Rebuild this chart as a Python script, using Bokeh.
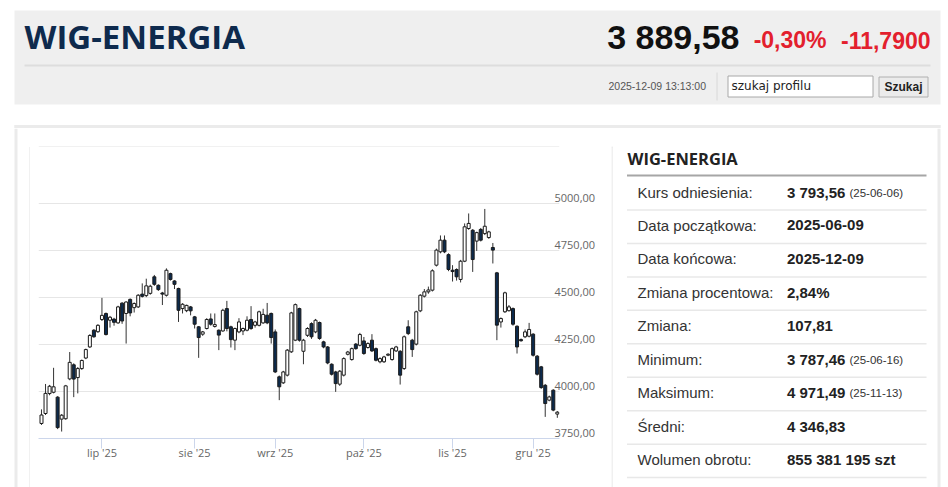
from bokeh.plotting import figure
from bokeh.layouts import column, row
from bokeh.models import Range1d, FixedTicker, ColumnDataSource
from bokeh.core.properties import value
from bokeh.embed import file_html
from bokeh.resources import INLINE

# ---------------- data ----------------
index_name = "WIG-ENERGIA"
last_price = "3 889,58"
change_pct = "-0,30%"
change_abs = "-11,7900"
timestamp = "2025-12-09 13:13:00"
search_hint = "szukaj profilu"
search_button = "Szukaj"

opens = [3830, 3883, 3989, 3996, 3970, 3853, 3855, 4067, 4142, 4074,
         4122, 4178, 4237, 4326, 4318, 4383, 4415, 4379, 4385, 4365,
         4470, 4415, 4490, 4446, 4450, 4518, 4510, 4522, 4610, 4565,
         4524, 4512, 4627, 4588, 4548, 4441, 4430, 4450, 4397, 4344,
         4305, 4335, 4386, 4346, 4326, 4322, 4441, 4344, 4273, 4317,
         4322, 4326, 4383, 4352, 4352, 4365, 4406, 4415, 4317, 4078,
         4046, 4087, 4211, 4273, 4441, 4214, 4299, 4361, 4317, 4367,
         4264, 4237, 4145, 4104, 4039, 4087, 4198, 4170, 4252, 4246,
         4269, 4234, 4273, 4228, 4158, 4158, 4193, 4170, 4216, 4214,
         4122, 4344, 4273, 4252, 4429, 4507, 4530, 4539, 4672, 4743,
         4805, 4728, 4645, 4649, 4596, 4693, 4867, 4858, 4800, 4862,
         4840, 4819, 4766, 4631, 4370, 4424, 4430, 4441, 4347, 4276,
         4291, 4294, 4305, 4188, 4131, 4033, 3954, 4007, 3880]
highs = [3905, 4040, 4035, 4126, 3975, 3880, 4035, 4210, 4150, 4130,
         4170, 4228, 4305, 4332, 4358, 4498, 4420, 4402, 4392, 4456,
         4475, 4480, 4495, 4474, 4518, 4575, 4600, 4568, 4620, 4570,
         4530, 4655, 4632, 4592, 4552, 4470, 4462, 4455, 4402, 4348,
         4322, 4390, 4415, 4415, 4330, 4440, 4482, 4350, 4340, 4390,
         4340, 4400, 4454, 4376, 4430, 4440, 4471, 4420, 4330, 4085,
         4110, 4226, 4424, 4468, 4446, 4280, 4342, 4368, 4386, 4372,
         4270, 4242, 4150, 4110, 4114, 4182, 4216, 4234, 4258, 4312,
         4290, 4262, 4305, 4234, 4182, 4190, 4204, 4234, 4243, 4220,
         4298, 4379, 4280, 4430, 4518, 4545, 4558, 4650, 4760, 4830,
         4830, 4735, 4672, 4655, 4700, 4894, 4947, 4864, 4850, 4870,
         4971, 4855, 4790, 4636, 4394, 4531, 4460, 4447, 4352, 4282,
         4330, 4365, 4310, 4194, 4136, 4040, 3978, 4012, 3896]
lows = [3822, 3875, 3980, 3990, 3800, 3787, 3850, 4060, 3970, 3990,
        4115, 4172, 4232, 4286, 4312, 4375, 4298, 4340, 4350, 4360,
        4360, 4255, 4400, 4420, 4444, 4500, 4502, 4515, 4562, 4535,
        4460, 4505, 4590, 4545, 4370, 4415, 4422, 4405, 4335, 4179,
        4296, 4330, 4350, 4340, 4220, 4318, 4320, 4234, 4220, 4310,
        4300, 4320, 4328, 4340, 4346, 4360, 4358, 4255, 4098, 3954,
        4040, 4080, 4205, 4268, 4265, 4145, 4290, 4280, 4310, 4275,
        4230, 4145, 4085, 3998, 4030, 4080, 4192, 4164, 4222, 4240,
        4195, 4228, 4210, 4160, 4150, 4152, 4188, 4164, 4210, 4037,
        4115, 4300, 4184, 4245, 4422, 4500, 4520, 4532, 4665, 4735,
        4736, 4640, 4585, 4590, 4580, 4688, 4860, 4636, 4748, 4798,
        4832, 4812, 4681, 4273, 4340, 4418, 4425, 4350, 4202, 4265,
        4284, 4288, 4186, 4085, 4014, 3865, 3948, 3895, 3860]
closes = [3875, 3990, 4028, 4025, 3808, 3874, 4030, 4155, 4066, 4122,
          4165, 4223, 4298, 4291, 4352, 4405, 4303, 4395, 4368, 4450,
          4375, 4476, 4418, 4468, 4512, 4506, 4562, 4560, 4570, 4542,
          4518, 4645, 4596, 4570, 4432, 4464, 4458, 4429, 4358, 4287,
          4317, 4383, 4358, 4356, 4300, 4432, 4335, 4276, 4335, 4370,
          4335, 4379, 4335, 4370, 4424, 4410, 4365, 4287, 4104, 4025,
          4104, 4220, 4418, 4462, 4273, 4273, 4335, 4291, 4379, 4282,
          4237, 4152, 4092, 4042, 4108, 4175, 4210, 4228, 4228, 4303,
          4202, 4255, 4216, 4166, 4175, 4184, 4198, 4228, 4237, 4087,
          4291, 4308, 4223, 4424, 4512, 4530, 4540, 4642, 4752, 4805,
          4743, 4649, 4638, 4610, 4693, 4876, 4894, 4702, 4845, 4805,
          4879, 4849, 4752, 4353, 4388, 4525, 4450, 4358, 4237, 4270,
          4317, 4330, 4193, 4092, 4021, 3936, 3971, 3901, 3890]

month_ticks = [15, 38, 58, 80, 102, 122]
month_labels = ["lip '25", "sie '25", "wrz '25", "paź '25", "lis '25", "gru '25"]
price_ticks = [3750, 4000, 4250, 4500, 4750, 5000, 5250]
price_labels = ["3750,00", "4000,00", "4250,00", "4500,00", "4750,00", "5000,00", ""]

panel_title = "WIG-ENERGIA"
row_labels = ["Kurs odniesienia:", "Data początkowa:", "Data końcowa:",
              "Zmiana procentowa:", "Zmiana:", "Minimum:", "Maksimum:",
              "Średni:", "Wolumen obrotu:"]
row_values = ["3 793,56", "2025-06-09", "2025-12-09", "2,84%", "107,81",
              "3 787,46", "4 971,49", "4 346,83", "855 381 195 szt"]
row_notes = ["(25-06-06)", "", "", "", "", "(25-06-16)", "(25-11-13)", "", ""]

# ---------------- helpers ----------------
NAVY = "#0c2a4c"
CARD = "#ebebeb"
BOX = "#e2e2e2"
PAGE_W, PAGE_H = 948, 487
ROW_TOP = 128


def deco(x0, x1, y0, y1):
    p = figure(width=x1 - x0, height=y1 - y0,
               x_range=Range1d(x0, x1), y_range=Range1d(y1, y0),
               toolbar_location=None, output_backend="svg", title=None,
               min_border=0, x_axis_type=None, y_axis_type=None)
    p.outline_line_color = None
    p.background_fill_color = "white"
    p.border_fill_color = "white"
    return p


def txt(p, x, y, s, size, color, font="Liberation Sans", bold=False, align="left"):
    p.text(x=[x], y=[y], text=[s], text_font=value(font), text_font_size=size,
           text_color=color, text_font_style="bold" if bold else "normal",
           text_align=align, text_baseline="middle")


# ---------------- header (incl. top edge of the card) ----------------
hdr = deco(0, PAGE_W, 0, ROW_TOP)
hdr.quad(left=[14], right=[940], top=[10], bottom=[104], fill_color="#efefef", line_color=None)
hdr.segment(x0=[24], y0=[65], x1=[930], y1=[65], line_color="#dddddd", line_width=2)
txt(hdr, 24, 35.5, index_name, "33px", "#0e2a4d", font="Open Sans", bold=True)
txt(hdr, 739, 36.5, last_price, "34px", "#111111", bold=True, align="right")
txt(hdr, 826, 39.5, change_pct, "23px", "#e3202d", bold=True, align="right")
txt(hdr, 930, 39.5, change_abs, "23px", "#e3202d", bold=True, align="right")
txt(hdr, 608, 85.5, timestamp, "10.5px", "#555555")
hdr.segment(x0=[716.5], y0=[72], x1=[716.5], y1=[100], line_color="#d8d8d8", line_width=1)
hdr.quad(left=[727.5], right=[872.5], top=[75.5], bottom=[96.5], fill_color="white",
         line_color="#a8a8a8", line_width=1)
txt(hdr, 731, 85, search_hint, "12px", "#222222", font="DejaVu Sans")
hdr.quad(left=[878.5], right=[927.5], top=[76.5], bottom=[96.5], fill_color="#ebebeb",
         line_color="#b0b0b0", line_width=1)
txt(hdr, 903, 86, search_button, "12px", "#222222", bold=True, align="center")
# card top edge
hdr.segment(x0=[14], y0=[126], x1=[940], y1=[126], line_color=CARD, line_width=3)
hdr.segment(x0=[15.5], y0=[124.5], x1=[15.5], y1=[ROW_TOP], line_color=CARD, line_width=3)
hdr.segment(x0=[938.5], y0=[124.5], x1=[938.5], y1=[ROW_TOP], line_color=CARD, line_width=3)

# ---------------- left edge ----------------
left = deco(0, 30, ROW_TOP, PAGE_H)
left.segment(x0=[15.5], y0=[ROW_TOP], x1=[15.5], y1=[PAGE_H], line_color=CARD, line_width=3)
left.segment(x0=[29.5], y0=[146.5], x1=[30], y1=[146.5], line_color=BOX, line_width=1)
left.segment(x0=[29.5], y0=[146.5], x1=[29.5], y1=[PAGE_H], line_color=BOX, line_width=1)

# ---------------- strip above chart ----------------
strip = deco(30, 611, ROW_TOP, 147)
strip.segment(x0=[30], y0=[146.5], x1=[611], y1=[146.5], line_color=BOX, line_width=1)

# ---------------- chart ----------------
xs = list(range(len(opens)))
tops = [max(o, c) for o, c in zip(opens, closes)]
bottoms = [min(o, c) for o, c in zip(opens, closes)]
fills = ["white" if c >= o else NAVY for o, c in zip(opens, closes)]
src = ColumnDataSource(dict(x=xs, open=opens, high=highs, low=lows, close=closes,
                            top=tops, bottom=bottoms, fill=fills))

chart = figure(width=581, height=PAGE_H - 147, x_range=Range1d(-0.744, 128.54),
               y_range=Range1d(3750, 5250), toolbar_location=None,
               output_backend="svg", title=None, y_axis_location="right",
               min_border_left=8, min_border_right=52, min_border_top=9,
               min_border_bottom=PAGE_H - 147 - 9 - 282)
chart.outline_line_color = None
chart.background_fill_color = "white"
chart.border_fill_color = "white"
chart.xgrid.visible = False
chart.ygrid.ticker = FixedTicker(ticks=price_ticks)
chart.ygrid.grid_line_color = "#e6e6e6"
chart.ygrid.grid_line_width = 1

ya = chart.yaxis[0]
ya.ticker = FixedTicker(ticks=price_ticks)
ya.major_label_overrides = {float(t): (l + "\n " if l else "") for t, l in zip(price_ticks, price_labels)}
ya.axis_line_color = None
ya.major_tick_line_color = None
ya.minor_tick_line_color = None
ya.major_tick_out = 0
ya.major_tick_in = 0
ya.major_label_standoff = -5
ya.major_label_text_color = "#666666"
ya.major_label_text_font = "Open Sans"
ya.major_label_text_font_size = "11px"
ya.major_label_text_line_height = 0.8

xa = chart.xaxis[0]
xa.ticker = FixedTicker(ticks=month_ticks)
xa.major_label_overrides = {float(t): l for t, l in zip(month_ticks, month_labels)}
xa.axis_line_color = "#ccd6eb"
xa.major_tick_line_color = "#ccd6eb"
xa.minor_tick_line_color = None
xa.major_tick_out = 10
xa.major_tick_in = 0
xa.major_label_standoff = -4
xa.major_label_text_color = "#666666"
xa.major_label_text_font = "Open Sans"
xa.major_label_text_font_size = "11px"

chart.segment(x0="x", y0="low", x1="x", y1="high", source=src,
              line_color="#333333", line_width=1)
chart.vbar(x="x", width=0.74, top="top", bottom="bottom", source=src,
           fill_color="fill", line_color="#1a1a1a", line_width=1)

mid = column(strip, chart, spacing=0)

# ---------------- right table ----------------
tab = deco(611, PAGE_W, ROW_TOP, PAGE_H)
tab.segment(x0=[938.5], y0=[ROW_TOP], x1=[938.5], y1=[PAGE_H], line_color=CARD, line_width=3)
tab.segment(x0=[611.5], y0=[146.5], x1=[611.5], y1=[PAGE_H], line_color=BOX, line_width=1)
tab.segment(x0=[611], y0=[146.5], x1=[612], y1=[146.5], line_color=BOX, line_width=1)
txt(tab, 627, 157.5, panel_title, "16.5px", "#222222", font="Open Sans", bold=True)
tab.segment(x0=[626.5], y0=[175], x1=[926], y1=[175], line_color="#a6a6a6", line_width=2)

n = len(row_labels)
centers = [191.5 + 33.46 * k for k in range(n)]
seps = [209.5 + 33.45 * k for k in range(n)]
tab.segment(x0=[626.5] * n, y0=seps, x1=[926] * n, y1=seps, line_color="#e8e8e8", line_width=1.5)
tab.text(x=[637] * n, y=centers, text=row_labels, text_font=value("Liberation Sans"),
         text_font_size="15px", text_color="#333333", text_baseline="middle")
tab.text(x=[786.5] * n, y=centers, text=row_values, text_font=value("Liberation Sans"),
         text_font_size="15px", text_font_style="bold", text_color="#222222",
         text_baseline="middle")
tab.text(x=[849] * n, y=[c + 0.5 for c in centers], text=row_notes, text_font=value("Liberation Sans"),
         text_font_size="11.5px", text_color="#333333", text_baseline="middle")

layout = column(hdr, row(left, mid, tab, spacing=0), spacing=0)

open("out.html", "w").write(file_html(layout, INLINE))
